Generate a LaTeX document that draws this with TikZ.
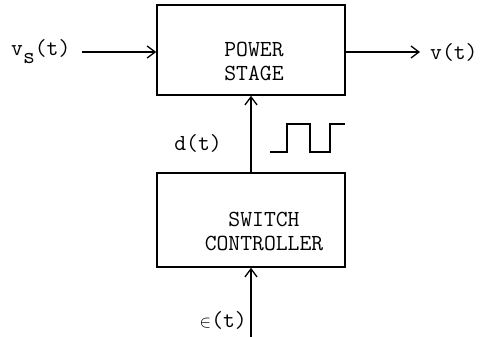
\documentclass[tikz,border=0pt]{standalone}
\usepackage{fontspec}
\usetikzlibrary{arrows.meta}
\begin{document}
\begin{tikzpicture}[x=1pt,y=-1pt,
  blk/.style={draw, line width=1.6pt, minimum width=188pt, inner sep=0pt},
  txt/.style={font=\ttfamily\fontsize{23}{24}\selectfont, align=center, inner sep=0pt},
  sig/.style={line width=1.3pt, -{Straight Barb[length=8pt,width=12pt,line width=1.3pt]}},
  wave/.style={line width=1.3pt}
]
\useasboundingbox (0,0) rectangle (485,337);
\node[blk, minimum height=90pt] (ps) at (251,50) {};
\node[blk, minimum height=94pt] (sc) at (251,220) {};
\node[txt] (pst) at (254,61) {POWER\\STAGE};
\node[txt] (sct) at (264,231) {SWITCH\\CONTROLLER};
\node[txt, anchor=west] (vs) at (11,52) {v\raisebox{-8pt}{s}(t)};
\node[txt, anchor=west] (vo) at (430,52) {v(t)};
\node[txt] (dl) at (198,143) {d(t)};
\node[txt, anchor=east] (el) at (247,320) {{\fontsize{18}{18}\selectfont$\in$}(t)};
\coordinate (vsin) at (82,52);
\coordinate (vout) at (420,52);
\coordinate (ein) at (251,337);
\draw[sig] (vsin) -- (vsin -| ps.west);
\draw[sig] (vout -| ps.east) -- (vout);
\draw[sig] (sc.north) -- (ps.south);
\draw[sig] (ein) -- (sc.south);
\draw[wave] (270,152) -- (287,152) -- (287,124) -- (310,124) -- (310,152) -- (330,152) -- (330,124) -- (345,124);
\end{tikzpicture}
\end{document}
